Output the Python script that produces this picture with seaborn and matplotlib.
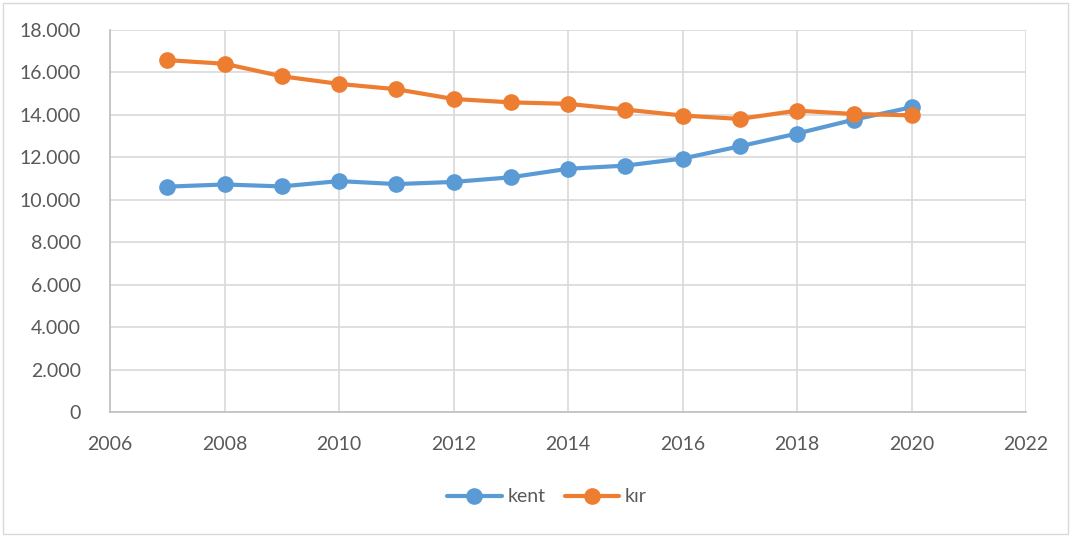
import matplotlib
matplotlib.use("Agg")
import matplotlib.pyplot as plt
import matplotlib.ticker as mticker
from matplotlib.patches import Rectangle
import seaborn as sns
import pandas as pd

years = list(range(2007, 2021))
kent = [10620, 10720, 10630, 10880, 10740, 10840, 11060, 11460,
        11610, 11940, 12520, 13120, 13780, 14360]
kir = [16580, 16410, 15820, 15460, 15210, 14750, 14590, 14520,
       14250, 13970, 13810, 14200, 14040, 13980]
series_names = ["kent", "kır"]
palette = ["#5B9BD5", "#ED7D31"]
x_ticks = list(range(2006, 2023, 2))
y_ticks = list(range(0, 18001, 2000))

df = pd.DataFrame({
    "yıl": years * 2,
    "değer": kent + kir,
    "seri": [series_names[0]] * len(years) + [series_names[1]] * len(years),
})

sns.set_theme(style="white")
plt.rcParams["font.family"] = ["Lato", "DejaVu Sans"]

fig = plt.figure(figsize=(10.71, 5.37), dpi=100)
ax = fig.add_axes([110 / 1071, 1 - 412 / 537, (1026 - 110) / 1071, (412 - 30) / 537])

sns.lineplot(data=df, x="yıl", y="değer", hue="seri", palette=palette,
             marker="o", markersize=12, markeredgewidth=0, linewidth=3,
             ax=ax, legend=True)

ax.set_xlim(2006, 2022)
ax.set_ylim(0, 18000)
ax.set_xticks(x_ticks)
ax.set_yticks(y_ticks)
ax.yaxis.set_major_formatter(mticker.FuncFormatter(
    lambda v, p: f"{int(v):,}".replace(",", ".")))
ax.grid(True, color="#D9D9D9", linewidth=1.2)
ax.set_axisbelow(True)
for side in ["top", "right"]:
    ax.spines[side].set_visible(False)
for side in ["left", "bottom"]:
    ax.spines[side].set_color("#BFBFBF")
    ax.spines[side].set_linewidth(1.2)
ax.tick_params(axis="both", labelsize=14, colors="#595959", length=0)
ax.tick_params(axis="y", pad=21)
ax.tick_params(axis="x", pad=17)
ax.set_xlabel("")
ax.set_ylabel("")

handles, labels = ax.get_legend_handles_labels()
ax.legend(handles, labels, loc="center",
          bbox_to_anchor=((547 - 110) / 916, (412 - 497) / 382),
          ncol=2, frameon=False, fontsize=14, handlelength=2.8,
          columnspacing=1.0, handletextpad=0.3, labelcolor="#595959")

fig.patches.append(Rectangle((3 / 1071, 3 / 537), 1065 / 1071, 531 / 537,
                             transform=fig.transFigure, fill=False,
                             edgecolor="#D9D9D9", linewidth=1))

fig.savefig("out.png", dpi=100)
